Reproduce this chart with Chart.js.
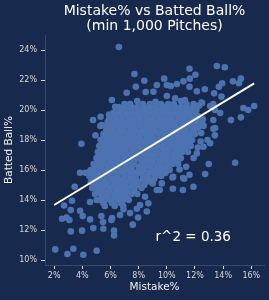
<!DOCTYPE html>
<html>
<head>
<meta charset="utf-8">
<script src="https://cdn.jsdelivr.net/npm/chart.js@4.4.1/dist/chart.umd.min.js"></script>
<style>
html, body { margin: 0; padding: 0; background: #172a4e; }
.chart-wrap { width: 269px; height: 300px; position: relative; }
</style>
</head>
<body>
<div class="chart-wrap"><canvas id="mistake-chart"></canvas></div>
<script>
// pitchers, [Mistake%, Batted Ball%]
const outerPoints = [
  [6.6,24.2],[7.7,22.4],[8.4,21.95],[7.8,21.55],[7.15,21.15],[8.5,21.2],[6.1,20.67],[6.5,20.13],
  [5.9,19.7],[5.3,19.55],[4.76,19.33],[5.28,18.93],[4.93,18.31],[3.93,17.75],[6.2,18.35],[5.38,19.0],
  [6.33,20.22],[9.29,21.67],[10.0,21.67],[9.05,21.22],[10.0,20.93],[10.59,20.78],
  [13.55,22.93],[14.12,22.85],[11.61,22.75],[12.03,22.35],[9.81,22.09],[11.18,21.91],[11.63,22.09],
  [10.71,21.73],[10.28,21.6],[14.69,21.91],[15.26,22.09],[15.12,21.78],[13.93,21.78],[13.7,21.55],
  [11.61,21.55],[12.13,21.25],[12.7,21.38],[13.36,21.11],[13.88,20.89],[11.28,20.67],[12.46,20.49],
  [13.08,20.27],[13.41,20.0],[11.89,20.22],[15.44,20.13],[15.78,20.0],[16.2,20.27],[15.26,19.51],
  [14.55,19.33],[13.31,18.75],[13.41,18.31],[12.56,19.38],[12.6,18.93],[12.89,18.0],[11.89,18.67],
  [13.3,19.33],[13.43,18.8],[12.58,19.0],[12.44,18.47],[13.79,19.8],[13.3,20.4],[12.5,20.47],
  [3.84,15.82],[4.22,15.82],[4.5,15.87],[3.46,14.89],[2.7,13.64],[3.27,13.95],[3.18,13.33],[2.56,12.75],
  [2.89,12.84],[3.08,12.67],[3.18,11.91],[3.98,11.96],[2.08,10.71],[2.94,10.4],[3.36,10.75],[4.07,10.35],
  [5.02,10.62],[3.84,13.29],[4.03,12.93],[4.55,12.71],[4.78,12.13],[5.49,12.09],[6.06,12.67],[6.25,11.96],
  [6.25,11.64],[7.58,12.36],[7.96,12.84],[7.87,13.42],[8.58,13.24],[5.35,12.93],[6.92,13.38],[4.55,13.87],
  [5.02,14.0],[5.47,12.53],[6.11,12.8],[6.68,13.0],[7.39,13.13],[8.1,13.67],
  [10.45,15.55],[9.64,15.11],[9.29,14.67],[8.46,14.22],[8.69,13.78],
  [14.85,16.49],[12.98,16.4],[12.72,15.73],[11.89,14.89],[11.14,14.67],[10.43,14.75],[11.23,15.42],
  [11.61,15.69],[10.9,16.04],[11.37,16.22],[13.08,17.78],[12.6,17.55],[12.13,17.11],[11.16,15.47],
  [10.2,16.67],[9.7,16.2],[10.4,15.5],[9.0,15.1],[9.5,14.67],[12.4,17.9],[12.2,17.5],[11.9,16.8]
];

// the dense middle of the cloud, row by row
const coreCloud = [
  [7.0,20.4],[7.4,20.4],[7.9,20.6],[8.3,20.4],[8.8,20.4],[9.2,20.55],[9.6,20.4],[10.1,20.4],[10.5,20.4],[11.0,20.6],[11.4,20.4],[11.9,20.4],[12.3,20.3],
  [6.4,20.0],[6.8,20.0],[7.2,20.0],[7.7,20.0],[8.1,20.0],[8.6,20.0],[9.0,20.0],[9.4,20.0],[9.9,20.0],[10.3,20.0],[10.8,20.0],[11.2,20.0],[11.6,20.0],[12.1,20.0],
  [6.0,19.6],[6.4,19.6],[6.9,19.6],[7.3,19.6],[7.8,19.6],[8.2,19.6],[8.6,19.6],[9.1,19.6],[9.5,19.6],[10.0,19.6],[10.4,19.6],[10.9,19.6],[11.3,19.6],[11.7,19.6],[12.2,19.6],
  [5.8,19.2],[6.2,19.2],[6.6,19.2],[7.1,19.2],[7.5,19.2],[8.0,19.2],[8.4,19.2],[8.8,19.2],[9.3,19.2],[9.7,19.2],[10.2,19.2],[10.6,19.2],[11.1,19.2],[11.5,19.2],[11.9,19.2],[12.3,19.2],
  [5.7,18.8],[6.1,18.8],[6.5,18.8],[6.9,18.8],[7.4,18.8],[7.8,18.8],[8.3,18.8],[8.7,18.8],[9.1,18.8],[9.6,18.8],[10.0,18.8],[10.5,18.8],[10.9,18.8],[11.3,18.8],[11.8,18.8],[12.2,18.8],
  [5.5,18.4],[5.9,18.4],[6.3,18.4],[6.7,18.4],[7.2,18.4],[7.6,18.4],[8.1,18.4],[8.5,18.4],[8.9,18.4],[9.4,18.4],[9.8,18.4],[10.3,18.4],[10.7,18.4],[11.2,18.4],[11.6,18.4],[12.0,18.4],
  [5.3,18.0],[5.7,18.0],[6.1,18.0],[6.5,18.0],[7.0,18.0],[7.4,18.0],[7.9,18.0],[8.3,18.0],[8.7,18.0],[9.2,18.0],[9.6,18.0],[10.1,18.0],[10.5,18.0],[11.0,18.0],[11.4,18.0],[11.8,18.0],
  [5.2,17.6],[5.6,17.6],[6.0,17.6],[6.4,17.6],[6.8,17.6],[7.3,17.6],[7.7,17.6],[8.2,17.6],[8.6,17.6],[9.0,17.6],[9.5,17.6],[9.9,17.6],[10.4,17.6],[10.8,17.6],[11.3,17.6],[11.7,17.6],
  [5.1,17.2],[5.5,17.2],[5.9,17.2],[6.3,17.2],[6.7,17.2],[7.1,17.2],[7.6,17.2],[8.0,17.2],[8.5,17.2],[8.9,17.2],[9.3,17.2],[9.8,17.2],[10.2,17.2],[10.7,17.2],[11.1,17.2],[11.5,17.2],
  [5.0,16.8],[5.4,16.8],[5.8,16.8],[6.2,16.8],[6.6,16.8],[7.0,16.8],[7.5,16.8],[7.9,16.8],[8.3,16.8],[8.8,16.8],[9.2,16.8],[9.7,16.8],[10.1,16.8],[10.6,16.8],[11.0,16.8],
  [4.8,16.4],[5.2,16.4],[5.6,16.4],[6.0,16.4],[6.4,16.4],[6.9,16.4],[7.3,16.4],[7.7,16.4],[8.2,16.4],[8.6,16.4],[9.1,16.4],[9.5,16.4],[10.0,16.4],[10.4,16.4],[10.8,16.4],
  [4.6,16.0],[5.0,16.0],[5.4,16.0],[5.8,16.0],[6.2,16.0],[6.7,16.0],[7.1,16.0],[7.5,16.0],[8.0,16.0],[8.4,16.0],[8.9,16.0],[9.3,16.0],[9.8,16.0],[10.2,16.0],
  [4.5,15.6],[4.9,15.6],[5.3,15.6],[5.7,15.6],[6.1,15.6],[6.5,15.6],[7.0,15.6],[7.4,15.6],[7.8,15.6],[8.3,15.6],[8.7,15.6],[9.2,15.6],[9.6,15.6],
  [4.6,15.2],[5.0,15.2],[5.4,15.2],[5.8,15.2],[6.3,15.2],[6.7,15.2],[7.1,15.2],[7.6,15.2],[8.0,15.2],[8.5,15.2],[8.9,15.2],
  [4.7,14.8],[5.1,14.8],[5.5,14.8],[6.0,14.8],[6.4,14.8],[6.8,14.8],[7.3,14.8],[7.7,14.8],[8.2,14.8],
  [4.9,14.4],[5.3,14.4],[5.7,14.4],[6.2,14.4],[6.6,14.4],[7.0,14.4],[7.5,14.4],[7.9,14.4],
  [5.2,14.0],[5.6,14.0],[6.0,14.0],[6.5,14.0],[6.9,14.0],[7.3,14.0],
  [5.6,13.6],[6.3,13.6],[6.9,13.6]
];

// rows in between, so the middle reads as solid as in the picture
const coreFill = [
  [6.6,20.2],[7.0,20.2],[7.5,20.2],[7.9,20.2],[8.4,20.2],[8.8,20.2],[9.2,20.2],[9.7,20.2],[10.1,20.2],[10.6,20.2],[11.0,20.2],[11.4,20.2],[11.9,20.2],
  [6.2,19.8],[6.6,19.8],[7.1,19.8],[7.5,19.8],[8.0,19.8],[8.4,19.8],[8.8,19.8],[9.3,19.8],[9.7,19.8],[10.2,19.8],[10.6,19.8],[11.0,19.8],[11.5,19.8],[11.9,19.8],
  [5.9,19.4],[6.4,19.4],[6.8,19.4],[7.3,19.4],[7.7,19.4],[8.1,19.4],[8.6,19.4],[9.0,19.4],[9.5,19.4],[9.9,19.4],[10.3,19.4],[10.8,19.4],[11.2,19.4],[11.7,19.4],[12.1,19.4],
  [5.9,19.0],[6.3,19.0],[6.8,19.0],[7.2,19.0],[7.7,19.0],[8.1,19.0],[8.5,19.0],[9.0,19.0],[9.4,19.0],[9.9,19.0],[10.3,19.0],[10.7,19.0],[11.2,19.0],[11.6,19.0],[12.1,19.0],
  [5.7,18.6],[6.1,18.6],[6.6,18.6],[7.0,18.6],[7.5,18.6],[7.9,18.6],[8.3,18.6],[8.8,18.6],[9.2,18.6],[9.7,18.6],[10.1,18.6],[10.5,18.6],[11.0,18.6],[11.4,18.6],[11.9,18.6],
  [5.5,18.2],[5.9,18.2],[6.4,18.2],[6.8,18.2],[7.3,18.2],[7.7,18.2],[8.1,18.2],[8.6,18.2],[9.0,18.2],[9.5,18.2],[9.9,18.2],[10.3,18.2],[10.8,18.2],[11.2,18.2],[11.6,18.2],
  [5.4,17.8],[5.8,17.8],[6.3,17.8],[6.7,17.8],[7.1,17.8],[7.6,17.8],[8.0,17.8],[8.5,17.8],[8.9,17.8],[9.3,17.8],[9.8,17.8],[10.2,17.8],[10.7,17.8],[11.1,17.8],[11.5,17.8],
  [5.3,17.4],[5.7,17.4],[6.2,17.4],[6.6,17.4],[7.0,17.4],[7.5,17.4],[7.9,17.4],[8.4,17.4],[8.8,17.4],[9.2,17.4],[9.7,17.4],[10.1,17.4],[10.6,17.4],[11.0,17.4],[11.4,17.4],
  [5.2,17.0],[5.6,17.0],[6.1,17.0],[6.5,17.0],[6.9,17.0],[7.4,17.0],[7.8,17.0],[8.3,17.0],[8.7,17.0],[9.1,17.0],[9.6,17.0],[10.0,17.0],[10.5,17.0],[10.9,17.0],
  [5.1,16.6],[5.5,16.6],[6.0,16.6],[6.4,16.6],[6.8,16.6],[7.3,16.6],[7.7,16.6],[8.2,16.6],[8.6,16.6],[9.0,16.6],[9.5,16.6],[9.9,16.6],[10.4,16.6],[10.8,16.6],
  [4.9,16.2],[5.3,16.2],[5.8,16.2],[6.2,16.2],[6.6,16.2],[7.1,16.2],[7.5,16.2],[8.0,16.2],[8.4,16.2],[8.8,16.2],[9.3,16.2],[9.7,16.2],[10.1,16.2],
  [4.7,15.8],[5.2,15.8],[5.6,15.8],[6.0,15.8],[6.5,15.8],[6.9,15.8],[7.4,15.8],[7.8,15.8],[8.2,15.8],[8.7,15.8],[9.1,15.8],[9.5,15.8],[9.9,15.8],
  [4.8,15.4],[5.2,15.4],[5.6,15.4],[6.1,15.4],[6.5,15.4],[6.9,15.4],[7.4,15.4],[7.8,15.4],[8.3,15.4],[8.7,15.4],[9.1,15.4],
  [4.9,15.0],[5.3,15.0],[5.7,15.0],[6.2,15.0],[6.6,15.0],[7.0,15.0],[7.5,15.0],[7.9,15.0],[8.4,15.0],
  [5.1,14.6],[5.5,14.6],[5.9,14.6],[6.4,14.6],[6.8,14.6],[7.2,14.6],[7.7,14.6],
  [5.4,14.2],[5.8,14.2],[6.3,14.2],[6.7,14.2],[7.1,14.2],
  [5.5,13.8],[6.1,13.8],[6.7,13.8]
];

// regression line ends
const fitX = [2.0, 16.2];
const fitY = [13.67, 21.78];
const fitLabel = 'r^2 = 0.36';

const xTickValues = [2, 4, 6, 8, 10, 12, 14, 16];
const yTickValues = [10, 12, 14, 16, 18, 20, 22, 24];
const titleLines = ['Mistake% vs Batted Ball%', '(min 1,000 Pitches)'];

const dotColor = '#4c72b0';

Chart.defaults.font.family = '"DejaVu Sans", sans-serif';

// title on top + r^2 note inside the plot
const textPlugin = {
  id: 'chartText',
  afterDraw(chart) {
    const ctx = chart.ctx;
    const area = chart.chartArea;
    const xs = chart.scales.x, ys = chart.scales.y;
    ctx.save();
    ctx.fillStyle = '#ffffff';
    ctx.textBaseline = 'middle';
    ctx.textAlign = 'center';
    ctx.font = '14px "DejaVu Sans"';
    const cx = (area.left + area.right) / 2;
    ctx.fillText(titleLines[0], cx, 11);
    ctx.fillText(titleLines[1], cx, 26.5);
    ctx.textAlign = 'left';
    ctx.font = '13.5px "DejaVu Sans"';
    ctx.fillText(fitLabel, xs.getPixelForValue(9.2), ys.getPixelForValue(11.47));
    ctx.restore();
  }
};

let mistakeChart = new Chart(
  document.getElementById('mistake-chart'), {
    type: 'scatter',
    data: {
      datasets: [
        {
          label: 'fit',
          data: fitX.map((v, i) => ({x: v, y: fitY[i]})),
          showLine: true,
          borderColor: '#ffffff',
          borderWidth: 2,
          pointRadius: 0,
          order: 0
        },
        {
          label: 'pitchers',
          data: outerPoints.concat(coreCloud, coreFill).map(p => ({x: p[0], y: p[1]})),
          backgroundColor: dotColor,
          borderColor: dotColor,
          pointBackgroundColor: dotColor,
          pointBorderWidth: 0,
          pointRadius: 3.3,
          order: 1
        }
      ]
    },
    options: {
      animation: false,
      responsive: true,
      maintainAspectRatio: false,
      layout: { padding: { top: 35, right: 5, left: 0, bottom: 0 } },
      plugins: {
        legend: { display: false },
        tooltip: { enabled: false },
        title: { display: false }
      },
      scales: {
        x: {
          type: 'linear',
          min: 1.35,
          max: 16.9,
          afterFit(s) { s.height = 35; },
          afterBuildTicks(s) { s.ticks = xTickValues.map(v => ({value: v})); },
          ticks: {
            color: '#d8d8d8',
            font: { size: 8 },
            padding: 2,
            maxRotation: 0,
            autoSkip: false,
            callback: v => v + '%'
          },
          grid: { drawOnChartArea: false, tickLength: 4, tickColor: '#d8d8d8' },
          border: { color: '#34496e', width: 1 },
          title: {
            display: true,
            text: 'Mistake%',
            color: '#f0f0f0',
            font: { size: 10.5 },
            padding: { top: 0, bottom: 6 }
          }
        },
        y: {
          type: 'linear',
          min: 9.67,
          max: 25,
          afterFit(s) { s.width = 45; },
          afterBuildTicks(s) { s.ticks = yTickValues.map(v => ({value: v})); },
          ticks: {
            color: '#d8d8d8',
            font: { size: 8 },
            padding: 4,
            autoSkip: false,
            callback: v => v + '%'
          },
          grid: { drawOnChartArea: false, tickLength: 4, tickColor: '#d8d8d8' },
          border: { color: '#34496e', width: 1 },
          title: {
            display: true,
            text: 'Batted Ball%',
            color: '#f0f0f0',
            font: { size: 10.5 },
            padding: { top: 3, bottom: 0 }
          }
        }
      }
    },
    plugins: [textPlugin]
  }
);
</script>
</body>
</html>
